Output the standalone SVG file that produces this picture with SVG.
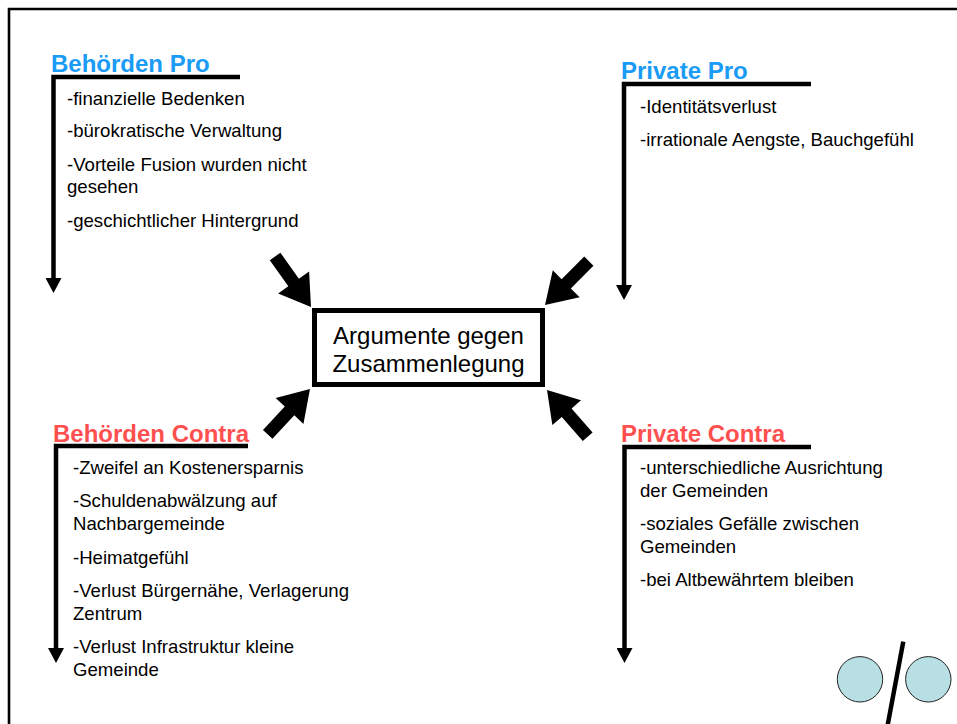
<svg xmlns="http://www.w3.org/2000/svg" width="957" height="724" viewBox="0 0 957 724">
<style>
.frame{fill:none;stroke:#000;stroke-width:2.6}
.bracket{fill:none;stroke:#000;stroke-width:4.5;stroke-linejoin:miter}
.title{font-family:"Liberation Sans",Arial,sans-serif;font-weight:bold;font-size:24px}
.pro{fill:#1A9BF5}
.contra{fill:#FF5050}
.body{font-family:"Liberation Sans",Arial,sans-serif;font-size:18.6px;fill:#000}
.center{font-family:"Liberation Sans",Arial,sans-serif;font-size:24px;fill:#000;text-anchor:middle}
.box{fill:#fff;stroke:#000;stroke-width:5}
.block{fill:#000}
.circ{fill:#B8DFE3;stroke:#222;stroke-width:1}
</style>
<defs>
<marker id="head" markerUnits="userSpaceOnUse" markerWidth="16" markerHeight="16" viewBox="0 0 16 16" refX="0" refY="8" orient="auto">
<path d="M0,0 L15,8 L0,16 Z" fill="#000"/>
</marker>
<path id="blk" d="M-62,-6.5 L-30,-6.5 L-30,-19 L0,0 L-30,19 L-30,6.5 L-62,6.5 Z"/>
</defs>
<rect width="957" height="724" fill="#fff"/>
<path class="frame" d="M9,724 V9 H957"/>

<g id="connectors">
<path class="bracket" d="M240,77 H53.5 V278" marker-end="url(#head)"/>
<path class="bracket" d="M811,84 H624 V285" marker-end="url(#head)"/>
<path class="bracket" d="M248,446 H56 V648" marker-end="url(#head)"/>
<path class="bracket" d="M811,447 H624.5 V648" marker-end="url(#head)"/>
<use href="#blk" class="block" transform="translate(311,307) rotate(54.6)"/>
<use href="#blk" class="block" transform="translate(545,305) rotate(135)"/>
<use href="#blk" class="block" transform="translate(310,389) rotate(-47)"/>
<use href="#blk" class="block" transform="translate(547,390) rotate(229)"/>
</g>

<g id="center">
<rect class="box" x="314.5" y="310.5" width="228" height="74"/>
<text class="center" x="428.5" y="344">Argumente gegen</text>
<text class="center" x="428.5" y="372">Zusammenlegung</text>
</g>

<g id="behoerden-pro">
<text class="title pro" x="51" y="72">Behörden Pro</text>
<text class="body" x="67" y="105">-finanzielle Bedenken</text>
<text class="body" x="67" y="137">-bürokratische Verwaltung</text>
<text class="body" x="67" y="171">-Vorteile Fusion wurden nicht</text>
<text class="body" x="67" y="193">gesehen</text>
<text class="body" x="67" y="227">-geschichtlicher Hintergrund</text>
</g>

<g id="private-pro">
<text class="title pro" x="621" y="79">Private Pro</text>
<text class="body" x="640" y="113">-Identitätsverlust</text>
<text class="body" x="640" y="146">-irrationale Aengste, Bauchgefühl</text>
</g>

<g id="behoerden-contra">
<text class="title contra" x="53" y="442">Behörden Contra</text>
<text class="body" x="73" y="474">-Zweifel an Kostenersparnis</text>
<text class="body" x="73" y="507">-Schuldenabwälzung auf</text>
<text class="body" x="73" y="530">Nachbargemeinde</text>
<text class="body" x="73" y="564">-Heimatgefühl</text>
<text class="body" x="73" y="597">-Verlust Bürgernähe, Verlagerung</text>
<text class="body" x="73" y="620">Zentrum</text>
<text class="body" x="73" y="653">-Verlust Infrastruktur kleine</text>
<text class="body" x="73" y="676">Gemeinde</text>
</g>

<g id="private-contra">
<text class="title contra" x="621" y="442">Private Contra</text>
<text class="body" x="640" y="474">-unterschiedliche Ausrichtung</text>
<text class="body" x="640" y="497">der Gemeinden</text>
<text class="body" x="640" y="530">-soziales Gefälle zwischen</text>
<text class="body" x="640" y="553">Gemeinden</text>
<text class="body" x="640" y="586">-bei Altbewährtem bleiben</text>
</g>

<g id="logo">
<circle class="circ" cx="860" cy="679.3" r="22.7"/>
<circle class="circ" cx="928.3" cy="679.3" r="22.7"/>
<line x1="903.3" y1="641.7" x2="887.5" y2="726" stroke="#000" stroke-width="4.5"/>
</g>
</svg>
